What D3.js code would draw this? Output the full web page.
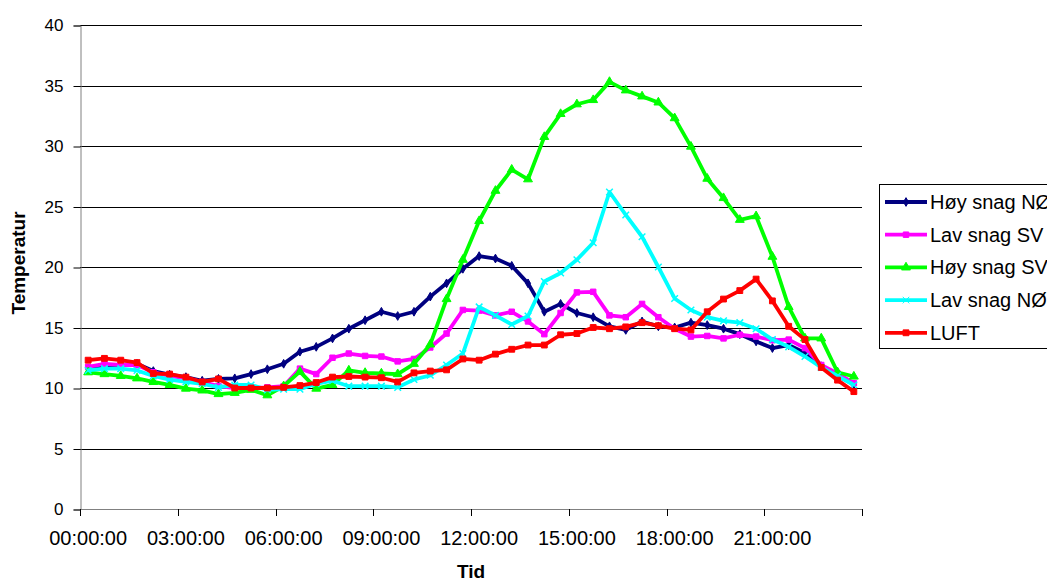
<!DOCTYPE html>
<html>
<head>
<meta charset="utf-8">
<script src="https://cdn.jsdelivr.net/npm/d3@7"></script>
<style>
  body { margin: 0; background: #fff; }
  text { font-family: "Liberation Sans", Arial, sans-serif; }
</style>
</head>
<body>
<svg id="chart" width="1047" height="583"></svg>
<script>
var categories = ["00:00:00","00:30:00","01:00:00","01:30:00","02:00:00","02:30:00","03:00:00","03:30:00",
  "04:00:00","04:30:00","05:00:00","05:30:00","06:00:00","06:30:00","07:00:00","07:30:00",
  "08:00:00","08:30:00","09:00:00","09:30:00","10:00:00","10:30:00","11:00:00","11:30:00",
  "12:00:00","12:30:00","13:00:00","13:30:00","14:00:00","14:30:00","15:00:00","15:30:00",
  "16:00:00","16:30:00","17:00:00","17:30:00","18:00:00","18:30:00","19:00:00","19:30:00",
  "20:00:00","20:30:00","21:00:00","21:30:00","22:00:00","22:30:00","23:00:00","23:30:00"];
var tickLabels = ["00:00:00","03:00:00","06:00:00","09:00:00","12:00:00","15:00:00","18:00:00","21:00:00"];
var yTicks = [0, 5, 10, 15, 20, 25, 30, 35, 40];

var hoySnagNO = [11.6,11.9,11.9,12.0,11.4,11.1,10.9,10.6,10.75,10.8,11.15,11.55,
  12.0,13.0,13.4,14.1,14.9,15.6,16.3,15.95,16.3,17.55,18.65,19.85,
  20.9,20.7,20.1,18.65,16.3,16.95,16.2,15.85,15.1,14.8,15.5,15.1,
  15.0,15.4,15.2,14.9,14.45,13.85,13.3,13.55,12.9,11.8,11.0,10.3];
var lavSnagSV = [11.75,12.0,11.9,11.9,11.3,11.0,10.8,10.5,10.15,10.0,10.0,10.05,
  10.15,11.6,11.15,12.5,12.85,12.65,12.6,12.2,12.4,13.35,14.5,16.45,
  16.4,16.0,16.3,15.5,14.45,16.2,17.9,17.95,16.0,15.85,16.95,15.85,
  14.9,14.25,14.3,14.1,14.4,14.25,13.95,14.0,13.3,11.9,11.2,10.4];
var hoySnagSV = [11.3,11.15,11.0,10.8,10.5,10.25,9.95,9.8,9.5,9.6,9.85,9.4,
  10.15,11.35,9.95,10.25,11.45,11.25,11.2,11.15,12.0,13.6,17.35,20.6,
  23.8,26.3,28.05,27.25,30.75,32.65,33.45,33.8,35.3,34.6,34.1,33.6,
  32.3,29.95,27.3,25.7,23.9,24.2,20.85,16.7,14.1,14.1,11.3,10.95];
var lavSnagNO = [11.45,11.6,11.6,11.45,11.0,10.7,10.5,10.35,10.05,10.25,10.25,9.85,
  9.9,9.9,10.35,10.6,10.15,10.15,10.15,10.05,10.7,11.05,11.9,12.85,
  16.7,16.0,15.25,15.95,18.8,19.5,20.6,22.0,26.2,24.3,22.5,20.0,
  17.4,16.45,15.85,15.55,15.4,14.9,14.0,13.4,12.6,11.7,11.0,10.25];
var luft = [12.3,12.45,12.3,12.1,11.2,11.15,10.9,10.5,10.75,10.0,10.0,10.0,
  10.05,10.2,10.45,10.9,10.95,10.9,10.85,10.5,11.25,11.4,11.5,12.4,
  12.3,12.8,13.2,13.55,13.55,14.4,14.5,15.0,14.9,15.05,15.4,15.15,
  14.9,14.8,16.3,17.35,18.05,19.0,17.2,15.1,14.0,11.7,10.65,9.7];

var seriesNames = ["Høy snag NØ", "Lav snag SV", "Høy snag SV", "Lav snag NØ", "LUFT"];
var seriesColors = ["#000080", "#FF00FF", "#00FF00", "#00FFFF", "#FF0000"];

var series = [
  {name: seriesNames[0], color: seriesColors[0], values: hoySnagNO, symbol: d3.symbolDiamond, size: 22},
  {name: seriesNames[1], color: seriesColors[1], values: lavSnagSV, symbol: d3.symbolSquare, size: 30},
  {name: seriesNames[2], color: seriesColors[2], values: hoySnagSV, symbol: d3.symbolTriangle, size: 34},
  {name: seriesNames[3], color: seriesColors[3], values: lavSnagNO, symbol: d3.symbolX, size: 30},
  {name: seriesNames[4], color: seriesColors[4], values: luft, symbol: d3.symbolSquare, size: 34}
];

var svg = d3.select("#chart");
var plotLeft = 80, plotRight = 862, plotTop = 25, plotBottom = 509;

var x = d3.scaleBand().domain(categories).range([plotLeft, plotRight]).padding(0);
var y = d3.scaleLinear().domain([0, 40]).range([plotBottom, plotTop]);
var cx = function(i){ return x(categories[i]) + x.bandwidth() / 2; };

// gridlines
svg.append("g").selectAll("line")
  .data(yTicks.filter(function(t){ return t > 0; })).enter()
  .append("line")
  .attr("x1", plotLeft).attr("x2", plotRight)
  .attr("y1", function(d){ return Math.round(y(d)) + 0.5; })
  .attr("y2", function(d){ return Math.round(y(d)) + 0.5; })
  .attr("stroke", "#000").attr("stroke-width", 1);

// y axis
var yAxis = svg.append("g")
  .attr("transform", "translate(" + (plotLeft + 0.5) + ",0.5)")
  .call(d3.axisLeft(y).tickValues(yTicks).tickSize(7).tickPadding(10));
yAxis.select(".domain").attr("stroke", "#808080");
yAxis.selectAll(".tick line").attr("stroke", "#000");
yAxis.selectAll("text").attr("font-size", 17).attr("fill", "#000")
  .style("font-family", "'Liberation Sans', Arial, sans-serif");

// x axis line + boundary ticks
svg.append("line")
  .attr("x1", plotLeft).attr("x2", plotRight + 0.5)
  .attr("y1", plotBottom + 0.5).attr("y2", plotBottom + 0.5)
  .attr("stroke", "#808080");
var boundaryTicks = categories.filter(function(c, i){ return i % 6 === 0; });
svg.append("g").selectAll("line")
  .data(boundaryTicks.concat([null])).enter()
  .append("line")
  .attr("x1", function(d){ return d === null ? plotRight + 0.5 : Math.round(x(d)) + 0.5; })
  .attr("x2", function(d){ return d === null ? plotRight + 0.5 : Math.round(x(d)) + 0.5; })
  .attr("y1", plotBottom).attr("y2", plotBottom + 7)
  .attr("stroke", "#000");

var xAxis = svg.append("g")
  .attr("transform", "translate(0," + plotBottom + ")")
  .call(d3.axisBottom(x).tickValues(tickLabels).tickSize(0).tickPadding(22));
xAxis.select(".domain").remove();
xAxis.selectAll("text").attr("font-size", 20).attr("fill", "#000")
  .style("font-family", "'Liberation Sans', Arial, sans-serif");

// axis titles
svg.append("text")
  .attr("transform", "translate(25,263) rotate(-90)")
  .attr("text-anchor", "middle")
  .attr("font-size", 19).attr("font-weight", "bold")
  .text("Temperatur");
svg.append("text")
  .attr("x", (plotLeft + plotRight) / 2).attr("y", 578)
  .attr("text-anchor", "middle")
  .attr("font-size", 19).attr("font-weight", "bold")
  .text("Tid");

// lines
var line = d3.line()
  .x(function(d, i){ return cx(i); })
  .y(function(d){ return y(d); });

series.forEach(function(s){
  var g = svg.append("g");
  g.append("path")
    .attr("d", line(s.values))
    .attr("fill", "none")
    .attr("stroke", s.color)
    .attr("stroke-width", 3.8)
    .attr("stroke-linejoin", "round");
  var sym = d3.symbol().type(s.symbol).size(s.size);
  g.selectAll("path.mk")
    .data(s.values).enter()
    .append("path")
    .attr("class", "mk")
    .attr("d", sym)
    .attr("transform", function(d, i){ return "translate(" + cx(i) + "," + y(d) + ")"; })
    .attr("fill", s.color)
    .attr("stroke", s.color)
    .attr("stroke-width", s.symbol === d3.symbolX ? 1.5 : 1);
});

// legend (clipped at the right edge, as in the original)
var legend = svg.append("g");
legend.append("rect")
  .attr("x", 879.5).attr("y", 184.5)
  .attr("width", 200).attr("height", 164)
  .attr("fill", "#fff").attr("stroke", "#000");
var rows = legend.selectAll("g")
  .data(series).enter()
  .append("g")
  .attr("transform", function(d, i){ return "translate(0," + (202 + i * 32.7) + ")"; });
rows.append("line")
  .attr("x1", 885).attr("x2", 927)
  .attr("stroke", function(d){ return d.color; })
  .attr("stroke-width", 3.8);
rows.append("path")
  .attr("d", function(d){ return d3.symbol().type(d.symbol).size(d.size)(); })
  .attr("transform", "translate(906,0)")
  .attr("fill", function(d){ return d.color; })
  .attr("stroke", function(d){ return d.color; });
rows.append("text")
  .attr("x", 930).attr("y", 7)
  .attr("font-size", 20)
  .text(function(d){ return d.name; });
</script>
</body>
</html>
